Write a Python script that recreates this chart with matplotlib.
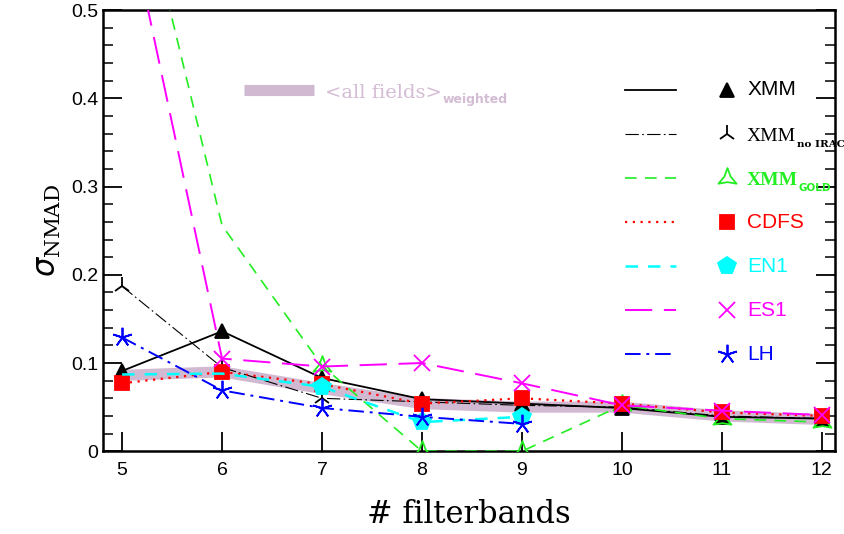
import numpy as np
import matplotlib
matplotlib.use("Agg")
import matplotlib.pyplot as plt
from matplotlib.path import Path
from matplotlib.transforms import offset_copy

bands = [5, 6, 7, 8, 9, 10, 11, 12]

xmm = [0.091, 0.136, 0.083, 0.059, 0.054, 0.049, 0.039, 0.037]
xmm_noirac = [0.187, 0.095, 0.060, 0.056, 0.052, 0.050, 0.040, 0.037]
xmm_gold = [0.725, 0.256, 0.097, 0.0, 0.0, 0.052, 0.037, 0.033]
cdfs = [0.077, 0.090, 0.076, 0.054, 0.060, 0.054, 0.044, 0.040]
en1 = [0.087, 0.088, 0.073, 0.033, 0.039]
es1 = [0.639, 0.105, 0.096, 0.100, 0.077, 0.052, 0.046, 0.041]
lh = [0.129, 0.069, 0.049, 0.039, 0.031]
weighted = [0.086, 0.090, 0.071, 0.054, 0.050, 0.050, 0.040, 0.036]

# concave three-pointed marker for the GOLD sample
ang = np.deg2rad(np.arange(90, 450, 60))
rad = np.array([1.0, 0.35] * 3)
pts = np.column_stack([rad * np.cos(ang), rad * np.sin(ang)])
tri3 = Path(np.vstack([pts, pts[:1]]), closed=True)

fig = plt.figure(figsize=(8.45, 5.34), dpi=100)
ax = fig.add_axes([0.122, 0.155, 0.866, 0.826])
renderer = fig.canvas.get_renderer()


def label_with_sub(x, y, main, sub, color, main_kw, sub_kw, drop=-4):
    t = ax.text(x, y, main, transform=ax.transAxes, color=color, va="baseline",
                ha="left", clip_on=False, **main_kw)
    w = t.get_window_extent(renderer).width
    tr = offset_copy(ax.transAxes, fig=fig, x=w * 72 / fig.dpi + 0.5, y=drop, units="points")
    ax.text(x, y, sub, transform=tr, color=color, va="baseline", ha="left",
            clip_on=False, **sub_kw)


band_col = "#d2b9d2"
ax.plot(bands, weighted, color=band_col, lw=8, solid_capstyle="butt", zorder=1)

series = [
    dict(y=xmm, color="black", ls="-", lw=1.3, marker="^", ms=10, mfc="black",
         label="XMM"),
    dict(y=xmm_noirac, color="black", ls=(0, (12, 3, 1.5, 3)), lw=0.8, marker="2", ms=13,
         mfc="black", label="XMM", sub="no IRAC", bold=False),
    dict(y=xmm_gold, color="#22ee22", ls=(0, (7, 5)), lw=1.2, marker=tri3, ms=15,
         mfc="none", label="XMM", sub="GOLD", bold=True, every=[2, 3, 4, 5, 6, 7]),
    dict(y=cdfs, color="red", ls=(0, (1, 2.5)), lw=1.6, marker="s", ms=10, mfc="red",
         label="CDFS"),
    dict(y=en1, color="cyan", ls=(0, (5, 4)), lw=1.8, marker="p", ms=13, mfc="cyan",
         label="EN1", every=[2, 3, 4]),
    dict(y=es1, color="magenta", ls=(0, (14, 6)), lw=1.4, marker="x", ms=11, mfc="magenta",
         label="ES1"),
    dict(y=lh, color="blue", ls=(0, (8, 3, 1.5, 3)), lw=1.4, marker=(5, 2, 0), ms=14,
         mfc="blue", label="LH"),
]

for s in series:
    x = bands[:len(s["y"])]
    ax.plot(x, s["y"], color=s["color"], ls=s["ls"], lw=s["lw"], marker=s["marker"],
            ms=s["ms"], mfc=s["mfc"], mec=s["color"], mew=1.3,
            markevery=s.get("every"), zorder=3, clip_on=True)

# legend drawn by hand: line sample, gap, marker, label
row0, dy = 0.819, 0.0998
for i, s in enumerate(series):
    yy = row0 - i * dy
    ax.plot([0.713, 0.783], [yy, yy], transform=ax.transAxes, color=s["color"],
            ls=s["ls"], lw=s["lw"], zorder=4)
    ax.plot([0.852], [yy], transform=ax.transAxes, color=s["color"], marker=s["marker"],
            ms=s["ms"], mfc=s["mfc"], mec=s["color"], mew=1.3, zorder=4)
    if "sub" in s:
        wt = "bold" if s["bold"] else "normal"
        sub_family = "DejaVu Sans" if s["bold"] else "DejaVu Serif"
        label_with_sub(0.880, yy - 0.016, s["label"], s["sub"], s["color"],
                       dict(family="Liberation Serif", fontsize=14, fontweight=wt),
                       dict(family=sub_family, fontsize=7.5, fontweight="bold"))
    else:
        ax.text(0.880, yy, s["label"], transform=ax.transAxes, color=s["color"],
                va="center", ha="left", family="Liberation Sans", fontsize=15)

ax.plot([0.193, 0.288], [0.819, 0.819], transform=ax.transAxes, color=band_col,
        lw=8, solid_capstyle="butt")
label_with_sub(0.303, 0.819 - 0.018, "<all fields>", "weighted", "#d4bcd4",
               dict(family="DejaVu Serif", fontsize=14),
               dict(family="DejaVu Sans", fontsize=9, fontweight="bold"))

ax.set_xlim(4.81, 12.13)
ax.set_ylim(0, 0.5)
ax.set_xticks(bands)
ax.set_yticks([0, 0.1, 0.2, 0.3, 0.4, 0.5])
ax.set_yticklabels(["0", "0.1", "0.2", "0.3", "0.4", "0.5"])
ax.set_yticks(np.arange(0, 0.5, 0.02), minor=True)
ax.tick_params(axis="x", direction="in", length=14, width=1.3, top=False,
               labelsize=14, pad=8)
ax.tick_params(axis="y", which="major", direction="in", length=14, width=1.3,
               right=True, labelsize=14)
ax.tick_params(axis="y", which="minor", direction="in", length=7, width=1.1, right=True)
for lab in ax.get_xticklabels() + ax.get_yticklabels():
    lab.set_family("Liberation Sans")
for sp in ax.spines.values():
    sp.set_linewidth(1.8)

ax.set_xlabel("# filterbands", family="DejaVu Serif", fontsize=22, labelpad=14)
ax.set_ylabel(r"$\sigma_{\mathregular{NMAD}}$", family="DejaVu Serif", fontsize=22,
              labelpad=6)

fig.savefig("out.png", dpi=100)
